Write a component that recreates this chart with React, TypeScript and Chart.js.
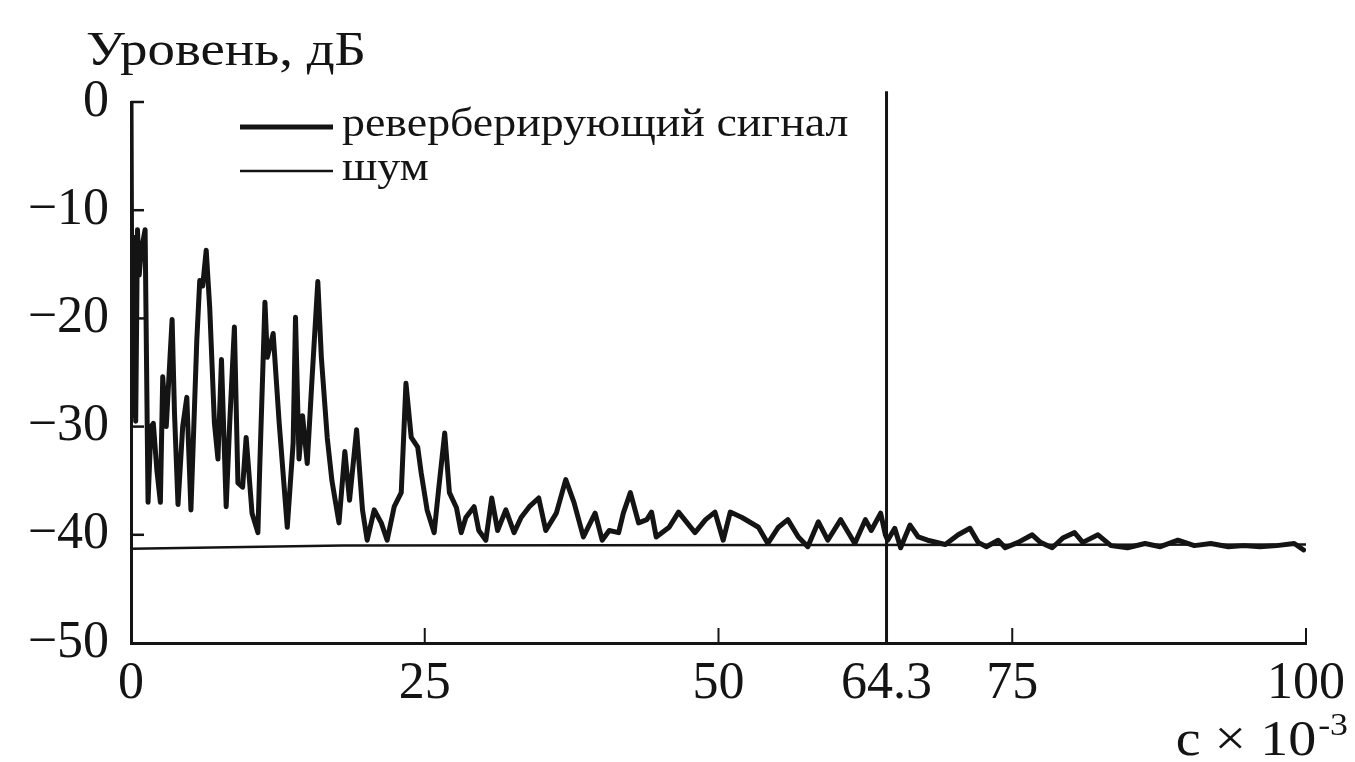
import React, { useEffect, useRef } from "react";
import { Chart, registerables } from "chart.js";

Chart.register(...registerables);

// ---- data ----
const signalTime = [
  0, 0.1, 0.25, 0.4, 0.55, 0.7, 0.85, 1.0, 1.2, 1.45, 1.7, 1.9, 2.2, 2.5, 2.7, 3.0, 3.3, 3.5, 3.7, 4.0,
  4.4, 4.75, 5.1, 5.6, 5.85, 6.1, 6.4, 6.7, 7.1, 7.4, 7.7, 8.1, 8.4, 8.8, 9.1, 9.5, 9.8, 10.3, 10.8, 10.95,
  11.4, 11.6, 12.1, 12.6, 13.3, 13.8, 14.0, 14.3, 14.6, 15.0, 15.4, 15.9, 16.2, 16.7, 17.1, 17.7, 18.2, 18.6, 19.2, 19.7,
  20.1, 20.7, 21.3, 21.8, 22.4, 23.0, 23.4, 23.85, 24.4, 24.7, 25.2, 25.8, 26.2, 26.7, 27.1, 27.7, 28.1, 28.5, 29.2, 29.6,
  30.2, 30.7, 31.2, 31.9, 32.6, 33.2, 33.9, 34.7, 35.3, 36.2, 37.0, 37.7, 38.5, 39.5, 40.1, 40.7, 41.5, 41.9, 42.5, 43.2,
  43.9, 44.3, 44.7, 45.8, 46.6, 48.0, 48.9, 49.7, 50.4, 51.0, 52.0, 53.4, 54.2, 55.1, 55.9, 56.8, 57.6, 58.5, 59.3, 60.4,
  61.6, 62.5, 63.0, 63.8, 64.2, 64.4, 65.0, 65.5, 66.3, 67.0, 67.8, 69.3, 70.4, 71.4, 72.1, 72.8, 73.8, 74.4, 75.5, 76.7,
  77.4, 78.4, 79.3, 80.3, 81.0, 82.3, 83.4, 84.8, 86.3, 87.6, 89.1, 90.5, 91.9, 93.4, 94.7, 96.1, 97.5, 99.0, 99.8,
];
const signalLevel = [
  0, -29, -12.5, -29.5, -11.8, -16, -14, -13, -11.8, -37, -30, -29.7, -34, -37, -25.4, -30, -24, -20.1, -28.7, -37.2,
  -30, -27.3, -37.7, -22, -16.5, -17, -13.7, -19, -29.7, -33, -23.8, -37.4, -29.7, -20.8, -35.2, -35.6, -31, -38, -39.8, -34,
  -18.5, -23.6, -21.4, -29.5, -39.3, -31.5, -19.9, -33, -29, -33.4, -25.7, -16.6, -23.6, -31, -35, -38.9, -32.3, -36.8, -30.3, -37.7,
  -40.5, -37.7, -38.9, -40.5, -37.4, -36.1, -26, -31, -31.9, -34.3, -37.7, -39.8, -35.6, -30.6, -36.1, -37.5, -39.8, -38.4, -37.4, -39.6,
  -40.5, -36.6, -39.6, -37.7, -39.8, -38.4, -37.4, -36.6, -39.6, -38, -34.9, -37, -40.2, -38, -40.5, -39.6, -39.8, -38, -36.1, -38.9,
  -38.6, -37.9, -40.2, -39.3, -37.9, -39.8, -38.6, -37.9, -40.5, -37.9, -38.4, -39.3, -40.8, -39.3, -38.6, -40.2, -41.1, -38.8, -40.5, -38.6,
  -40.8, -38.6, -39.6, -38, -40, -40.5, -39.4, -41.2, -39.1, -40.2, -40.5, -40.9, -40, -39.4, -40.7, -41.1, -40.5, -41.2, -40.7, -40,
  -40.7, -41.2, -40.3, -39.8, -40.7, -40, -41, -41.2, -40.8, -41.1, -40.5, -41, -40.8, -41.1, -41, -41.1, -41, -40.8, -41.4,
];
const noiseTime = [0, 18, 100];
const noiseLevel = [-41.3, -41.0, -40.9];
const markerTime = 64.3;
const markerLevel = [-50, 1];
const xTickValues = [0, 25, 50, 64.3, 75, 100];
const xInnerTicks = [25, 50, 75, 100];
const yTickValues = [-50, -40, -30, -20, -10, 0];
const yInnerTicks = [-40, -30, -20, -10, 0];
const legendLabels = ["реверберирующий сигнал", "шум"];
const yTitle = "Уровень, дБ";
const xTitleMain = "с × 10";
const xTitleExp = "-3";

const INK = "#141414";
const SERIF = "'Liberation Serif', 'DejaVu Serif', serif";
const STRETCH = 1.12;

const decorPlugin = {
  id: "decor",
  afterDraw(chart: any) {
    const { ctx, chartArea, scales } = chart;
    const xs = scales.x;
    const ys = scales.y;
    ctx.save();
    ctx.strokeStyle = INK;
    ctx.fillStyle = INK;
    ctx.lineCap = "butt";
    // inward y ticks
    ctx.lineWidth = 2.5;
    yInnerTicks.forEach((v) => {
      const y = ys.getPixelForValue(v);
      ctx.beginPath();
      ctx.moveTo(chartArea.left, y);
      ctx.lineTo(chartArea.left + 13, y);
      ctx.stroke();
    });
    // inward x ticks
    ctx.lineWidth = 2;
    xInnerTicks.forEach((v) => {
      const x = xs.getPixelForValue(v);
      ctx.beginPath();
      ctx.moveTo(x, chartArea.bottom);
      ctx.lineTo(x, chartArea.bottom - 15);
      ctx.stroke();
    });

    const drawStretched = (text: string, x: number, y: number, font: string, align: "left" | "right" = "left") => {
      ctx.save();
      ctx.font = font;
      ctx.textBaseline = "alphabetic";
      const w = ctx.measureText(text).width * STRETCH;
      const x0 = align === "right" ? x - w : x;
      ctx.translate(x0, y);
      ctx.scale(STRETCH, 1);
      ctx.textAlign = "left";
      ctx.fillText(text, 0, 0);
      ctx.restore();
      return w;
    };

    // y title
    drawStretched(yTitle, 86, 65, `49px ${SERIF}`);

    // legend
    const ds = chart.data.datasets;
    [0, 1].forEach((i) => {
      const ly = 127 + i * 44;
      ctx.lineWidth = ds[i].borderWidth;
      ctx.beginPath();
      ctx.moveTo(240, ly);
      ctx.lineTo(333, ly);
      ctx.stroke();
      drawStretched(legendLabels[i], 342, ly + 9, `41px ${SERIF}`);
    });

    // x title with exponent
    ctx.font = `32px ${SERIF}`;
    const expW = ctx.measureText(xTitleExp).width * STRETCH;
    const right = 1348;
    drawStretched(xTitleExp, right, 735, `32px ${SERIF}`, "right");
    drawStretched(xTitleMain, right - expW - 2, 755, `50px ${SERIF}`, "right");
    ctx.restore();
  },
};

export default function App() {
  const ref = useRef<HTMLCanvasElement | null>(null);
  useEffect(() => {
    if (!ref.current) return;
    const chart = new Chart(ref.current, {
      type: "line",
      data: {
        datasets: [
          {
            label: legendLabels[0],
            data: signalTime.map((t, i) => ({ x: t, y: signalLevel[i] })),
            borderColor: INK,
            borderWidth: 5,
            pointRadius: 0,
            tension: 0,
            borderJoinStyle: "round",
            borderCapStyle: "round",
          },
          {
            label: legendLabels[1],
            data: noiseTime.map((t, i) => ({ x: t, y: noiseLevel[i] })),
            borderColor: INK,
            borderWidth: 2.5,
            pointRadius: 0,
            tension: 0,
          },
          {
            label: "64.3",
            data: markerLevel.map((v) => ({ x: markerTime, y: v })),
            borderColor: INK,
            borderWidth: 3,
            pointRadius: 0,
            clip: false,
          } as any,
        ],
      },
      options: {
        animation: false,
        responsive: false,
        layout: { padding: { left: 0, right: 46, top: 102, bottom: 0 } },
        plugins: { legend: { display: false }, tooltip: { enabled: false }, title: { display: false } },
        scales: {
          x: {
            type: "linear",
            min: 0,
            max: 100,
            afterBuildTicks: (s: any) => {
              s.ticks = xTickValues.map((v) => ({ value: v }));
            },
            afterFit: (s: any) => {
              s.height = 119;
            },
            grid: { display: false, drawTicks: false },
            border: { display: true, color: INK, width: 3 },
            ticks: {
              color: INK,
              font: { family: SERIF, size: 52 },
              padding: 10,
              autoSkip: false,
              maxRotation: 0,
              callback: (v: any) => String(v),
            },
          },
          y: {
            type: "linear",
            min: -50,
            max: 0,
            afterBuildTicks: (s: any) => {
              s.ticks = yTickValues.map((v) => ({ value: v }));
            },
            afterFit: (s: any) => {
              s.width = 131;
            },
            grid: { display: false, drawTicks: false },
            border: { display: true, color: INK, width: 3 },
            ticks: {
              color: INK,
              font: { family: SERIF, size: 52 },
              padding: 22,
              callback: (v: any) => (v < 0 ? "\u2212" + Math.abs(v) : String(v)),
            },
          },
        },
      },
      plugins: [decorPlugin],
    } as any);
    return () => chart.destroy();
  }, []);
  return (
    <div style={{ position: "absolute", left: 0, top: 0, width: 1355, height: 762, background: "#fff" }}>
      <canvas ref={ref} width={1355} height={762} />
    </div>
  );
}
